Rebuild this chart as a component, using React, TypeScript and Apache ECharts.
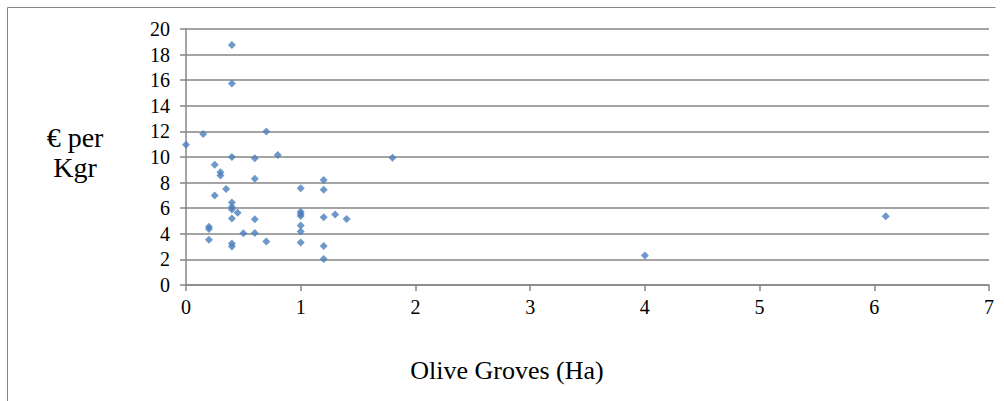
import React, { useEffect, useRef } from "react";
import * as echarts from "echarts";

const xValues = [0.4, 0.4, 0.15, 0.7, 0, 0.4, 0.6, 0.8, 1.8, 0.25, 0.3, 0.3, 0.6, 1.2, 1.0, 1.2, 0.35, 0.25, 0.4, 0.4, 0.4, 0.45, 1.0, 1.0, 1.0, 1.2, 1.3, 1.4, 0.4, 0.6, 0.2, 0.2, 1.0, 1.0, 0.5, 0.6, 0.2, 0.7, 1.0, 0.4, 0.4, 1.2, 1.2, 4.0, 6.1];
const yValues = [18.75, 15.75, 11.8, 12.0, 10.95, 10.0, 9.9, 10.15, 9.95, 9.4, 8.8, 8.55, 8.3, 8.2, 7.55, 7.45, 7.5, 7.0, 6.45, 6.1, 5.9, 5.65, 5.73, 5.55, 5.4, 5.3, 5.5, 5.15, 5.2, 5.13, 4.55, 4.37, 4.65, 4.18, 4.05, 4.06, 3.54, 3.4, 3.33, 3.25, 3.0, 3.05, 2.03, 2.3, 5.38];
const yTitleLines = ["€ per", "Kgr"];
const xTitle = "Olive Groves (Ha)";

const FONT = "Liberation Serif";
const GRAY = "#868686";

export default function App() {
  const ref = useRef<HTMLDivElement>(null);
  useEffect(() => {
    if (!ref.current) return;
    const chart = echarts.init(ref.current, undefined, { renderer: "svg" });
    const data = xValues.map((x, i) => [x, yValues[i]]);
    chart.setOption({
      animation: false,
      textStyle: { fontFamily: FONT },
      grid: { left: 186, right: 15, top: 29, bottom: 116 },
      xAxis: {
        type: "value",
        min: 0,
        max: 7,
        interval: 1,
        axisLine: { show: true, onZero: false, lineStyle: { color: GRAY, width: 1.5 } },
        axisTick: { show: true, length: 6, inside: false, lineStyle: { color: GRAY, width: 1.5 } },
        axisLabel: { color: "#000", fontFamily: FONT, fontSize: 20, margin: 12 },
        splitLine: { show: false },
      },
      yAxis: {
        type: "value",
        min: 0,
        max: 20,
        interval: 2,
        axisLine: { show: true, lineStyle: { color: GRAY, width: 1.5 } },
        axisTick: { show: true, length: 6, inside: false, lineStyle: { color: GRAY, width: 1.5 } },
        axisLabel: { color: "#000", fontFamily: FONT, fontSize: 20, margin: 16 },
        splitLine: { show: true, lineStyle: { color: GRAY, width: 1.5 } },
      },
      series: [
        {
          type: "scatter",
          data,
          symbol: "diamond",
          symbolSize: 8,
          itemStyle: { color: "#4a7ebb" },
        },
      ],
      graphic: [
        { type: "line", shape: { x1: 7.5, y1: 7.5, x2: 995.5, y2: 7.5 }, style: { stroke: GRAY, lineWidth: 1 } },
        { type: "line", shape: { x1: 7.5, y1: 7.5, x2: 7.5, y2: 401 }, style: { stroke: GRAY, lineWidth: 1 } },
        {
          type: "text",
          x: 75,
          y: 137,
          style: { text: yTitleLines[0], fontFamily: FONT, fontSize: 28, fill: "#000", align: "center", verticalAlign: "middle" },
        },
        {
          type: "text",
          x: 75,
          y: 167,
          style: { text: yTitleLines[1], fontFamily: FONT, fontSize: 28, fill: "#000", align: "center", verticalAlign: "middle" },
        },
        {
          type: "text",
          x: 507,
          y: 370,
          style: { text: xTitle, fontFamily: FONT, fontSize: 26, fill: "#000", align: "center", verticalAlign: "middle" },
        },
      ],
    });
    return () => chart.dispose();
  }, []);
  return (
    <div style={{ position: "fixed", left: 0, top: 0, width: 1004, height: 401, background: "#fff" }}>
      <div ref={ref} style={{ width: 1004, height: 401 }} />
    </div>
  );
}
